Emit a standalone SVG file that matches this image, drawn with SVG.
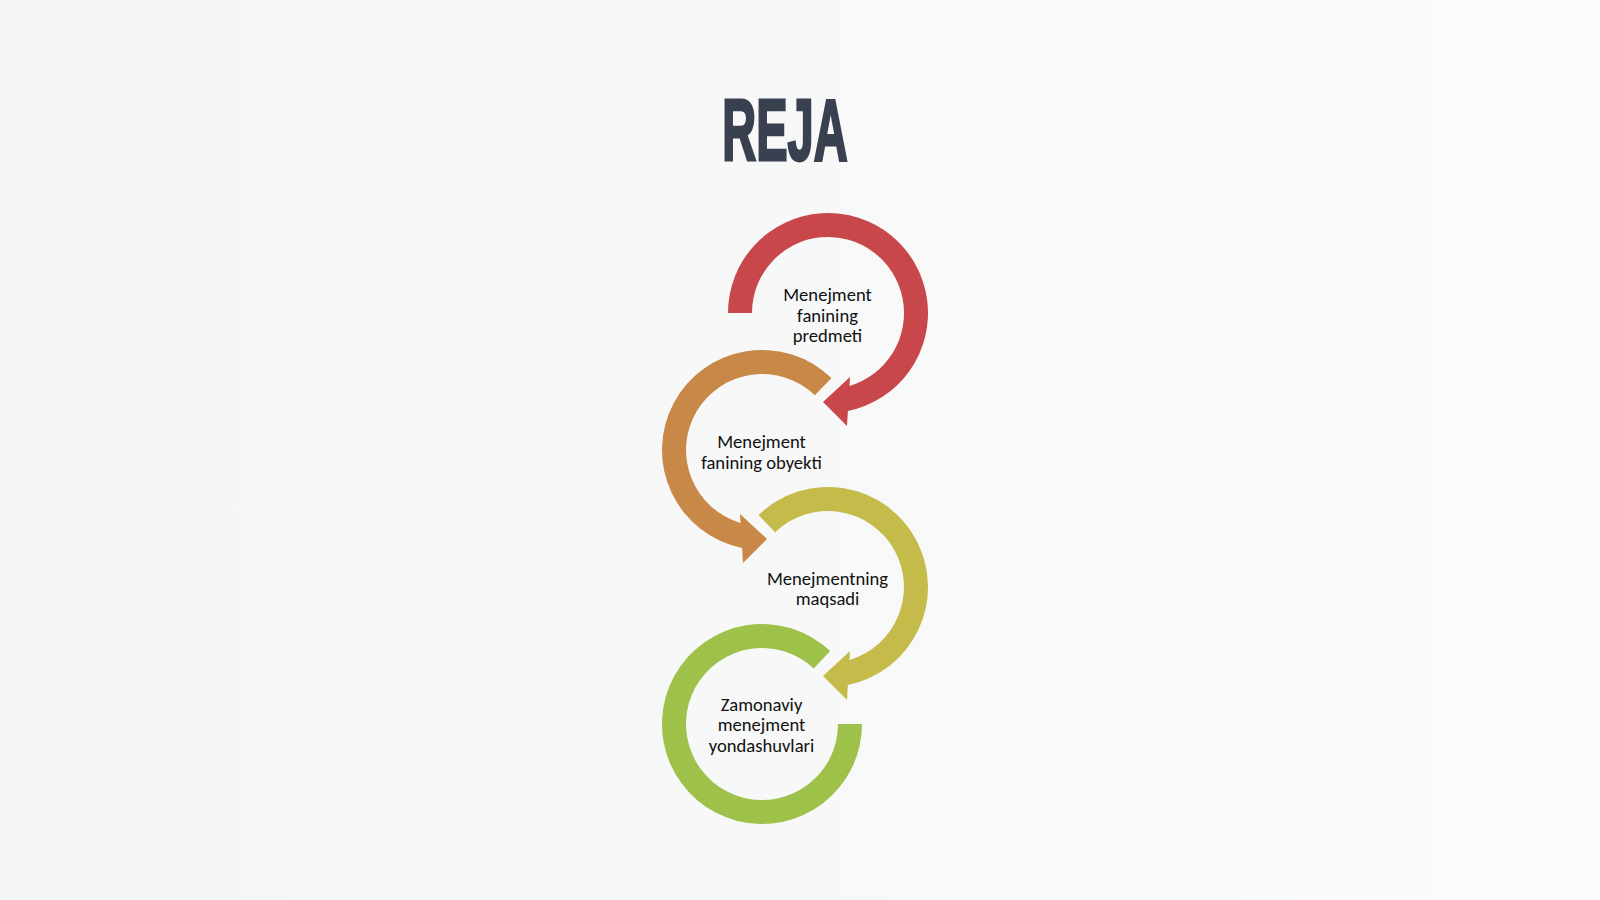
<svg xmlns="http://www.w3.org/2000/svg" width="1600" height="900" viewBox="0 0 1600 900">
  <defs>
    <linearGradient id="bg" x1="0" y1="0" x2="1" y2="0">
      <stop offset="0" stop-color="#F4F5F5"/>
      <stop offset="1" stop-color="#FBFBFB"/>
    </linearGradient>
    <style>
      .lbl { font-family: Carlito, Calibri, Lato, "Liberation Sans", sans-serif; font-size: 18.6px; fill: #111111; text-anchor: middle; }
      .title { font-family: "Liberation Sans", Arial, sans-serif; font-weight: bold; font-size: 87px; fill: #394150; stroke: #394150; stroke-width: 3; text-anchor: middle; }
    </style>
  </defs>
  <rect width="1600" height="900" fill="url(#bg)"/>
  <text class="title" transform="translate(785,160) scale(0.54,1)">REJA</text>

  <g id="connectors"></g>

  <g id="node1">
    <path fill="#C7474B" d="M728,313 A100,100 0 1 1 847.9,411 L847,426 L823,402 L850,377 L849.5,385.9 A76,76 0 1 0 752,313 Z"/>
    <text class="lbl" x="827.5" y="301">Menejment</text>
    <text class="lbl" x="827.5" y="321.5">fanining</text>
    <text class="lbl" x="827.5" y="342">predmeti</text>
  </g>

  <g id="node2">
    <path fill="#C88847" d="M831.5,378.1 A100,100 0 1 0 742.1,548 L743,563 L767,539 L740,514 L740.5,522.9 A76,76 0 1 1 814.8,395.3 Z"/>
    <text class="lbl" x="761.5" y="448">Menejment</text>
    <text class="lbl" x="761.5" y="468.5">fanining obyekti</text>
  </g>

  <g id="node3">
    <path fill="#C5BB4B" d="M758.5,515.1 A100,100 0 1 1 847.9,685 L847,700 L823,676 L850,651 L849.5,659.9 A76,76 0 1 0 775.2,532.3 Z"/>
    <text class="lbl" x="827.5" y="584.5">Menejmentning</text>
    <text class="lbl" x="827.5" y="605">maqsadi</text>
  </g>

  <g id="node4">
    <path fill="#9DC149" d="M830.2,650.9 A100,100 0 1 0 862,724 L838,724 A76,76 0 1 1 813.8,668.4 Z"/>
    <text class="lbl" x="761.5" y="710.5">Zamonaviy</text>
    <text class="lbl" x="761.5" y="731">menejment</text>
    <text class="lbl" x="761.5" y="751.5">yondashuvlari</text>
  </g>
</svg>
